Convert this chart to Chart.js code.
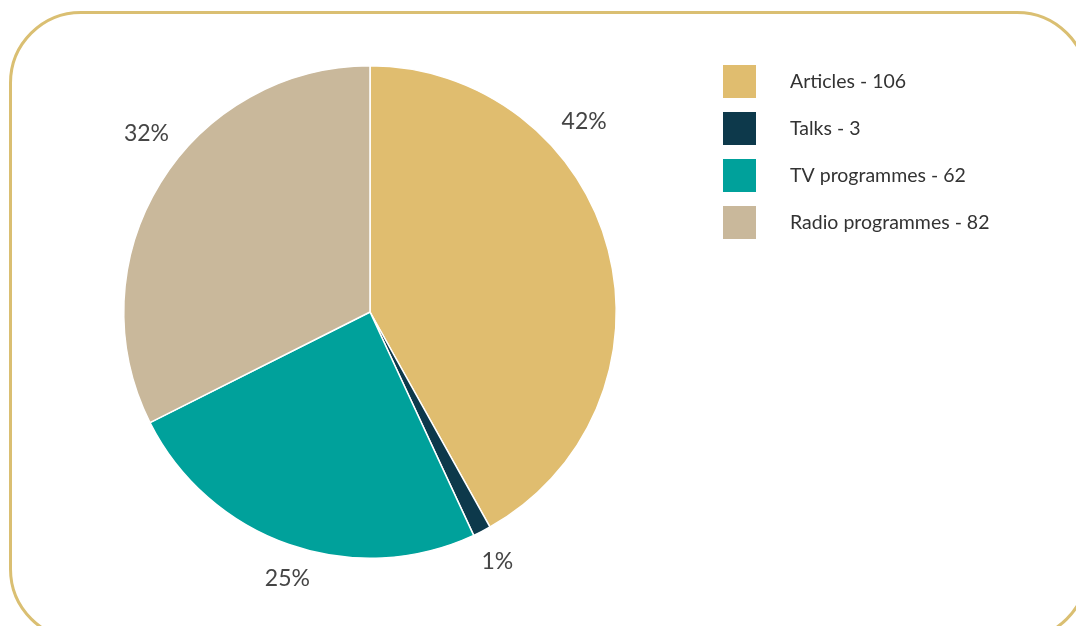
<!DOCTYPE html>
<html>
<head>
<meta charset="utf-8">
<script src="https://cdn.jsdelivr.net/npm/chart.js@4"></script>
<style>
  html, body { margin: 0; padding: 0; background: #fff; overflow: hidden; }
  #wrap { position: relative; width: 1076px; height: 626px; }
  #frame {
    position: absolute; left: 9px; top: 11px; width: 1080px; height: 630px;
    border: 3px solid #DABF72; border-radius: 72px; box-sizing: border-box;
  }
  canvas { position: absolute; left: 0; top: 0; }
</style>
</head>
<body>
<div id="wrap">
  <div id="frame"></div>
  <canvas id="mediaChart" width="1076" height="626"></canvas>
</div>
<script>
const categories = ['Articles', 'Talks', 'TV programmes', 'Radio programmes'];
const counts = [106, 3, 62, 82];
const colours = ['#E0BD6F', '#0D394B', '#00A19B', '#C9B89B'];

// ======================
// PERCENT LABELS + LEGEND
// ======================

const sliceLabels = {
  id: 'sliceLabels',
  afterDatasetsDraw(chart, args, opts) {
    const ctx = chart.ctx;
    const meta = chart.getDatasetMeta(0);
    const values = chart.data.datasets[0].data;
    const total = values.reduce((a, b) => a + b, 0);

    ctx.save();
    ctx.font = '23px Lato';
    ctx.fillStyle = '#454545';
    ctx.textAlign = 'center';
    ctx.textBaseline = 'middle';
    meta.data.forEach((arc, i) => {
      const mid = (arc.startAngle + arc.endAngle) / 2 + (opts.shift[i] || 0) * Math.PI / 180;
      const r = arc.outerRadius + opts.gap[i];
      const pct = Math.round(values[i] / total * 100) + '%';
      ctx.fillText(pct, arc.x + Math.cos(mid) * r, arc.y + Math.sin(mid) * r);
    });
    ctx.restore();
  },
  afterDraw(chart, args, opts) {
    const ctx = chart.ctx;
    const values = chart.data.datasets[0].data;
    const bg = chart.data.datasets[0].backgroundColor;

    ctx.save();
    ctx.font = '19.5px Lato';
    ctx.textBaseline = 'middle';
    chart.data.labels.forEach((label, i) => {
      const y = opts.legendY + i * opts.legendStep;
      ctx.fillStyle = bg[i];
      ctx.fillRect(opts.legendX, y, 33, 33);
      ctx.fillStyle = '#333';
      ctx.fillText(label + ' - ' + values[i], opts.legendX + 67, y + 17);
    });
    ctx.restore();
  }
};

new Chart(
  document.getElementById('mediaChart'),
  {
    type: 'pie',

    data: {
      labels: categories,

      datasets: [{
        data: counts,
        backgroundColor: colours,
        borderColor: '#fff',
        borderWidth: 1.5
      }]
    },

    options: {
      responsive: false,
      animation: false,
      layout: {
        padding: { left: 123, right: 459, top: 65, bottom: 67 }
      },
      plugins: {
        legend: { display: false },
        tooltip: { enabled: false },
        sliceLabels: {
          gap: [40, 34, 33, 40],
          shift: [-27, 0, -2, 7],
          legendX: 723,
          legendY: 65,
          legendStep: 47
        }
      }
    },

    plugins: [sliceLabels]
  }
);
</script>
</body>
</html>
